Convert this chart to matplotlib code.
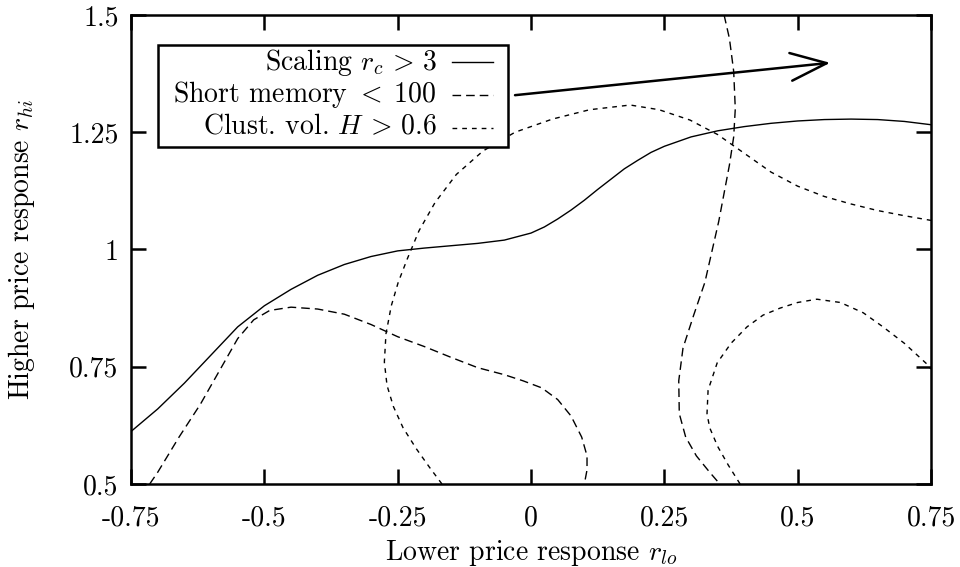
import matplotlib
matplotlib.use('Agg')
import matplotlib.pyplot as plt
from matplotlib.patches import Rectangle

plt.rcParams['font.family'] = 'serif'
plt.rcParams['font.serif'] = ['cmr10']
plt.rcParams['mathtext.fontset'] = 'cm'
plt.rcParams['axes.unicode_minus'] = False

# contour lines (r_lo, r_hi)
scaling_x = [-0.75, -0.70, -0.65, -0.60, -0.55, -0.50, -0.45, -0.40, -0.35, -0.30, -0.25,
             -0.20, -0.15, -0.10, -0.05, 0.0, 0.025, 0.05, 0.075, 0.10, 0.125, 0.15, 0.175,
             0.20, 0.225, 0.25, 0.30, 0.35, 0.40, 0.45, 0.50, 0.55, 0.60, 0.65, 0.70, 0.75]
scaling_y = [0.612, 0.66, 0.715, 0.775, 0.835, 0.88, 0.915, 0.945, 0.968, 0.985, 0.997,
             1.003, 1.008, 1.013, 1.02, 1.035, 1.048, 1.065, 1.084, 1.105, 1.128, 1.15, 1.172,
             1.19, 1.207, 1.22, 1.24, 1.253, 1.262, 1.269, 1.274, 1.277, 1.278, 1.277, 1.273,
             1.266]

memory_a_x = [-0.715, -0.70, -0.66, -0.62, -0.58, -0.55, -0.52, -0.49, -0.45, -0.40, -0.35,
              -0.30, -0.25, -0.20, -0.15, -0.10, -0.05, -0.015, 0.02, 0.05, 0.075, 0.095,
              0.105, 0.105, 0.10]
memory_a_y = [0.5, 0.525, 0.60, 0.67, 0.75, 0.81, 0.85, 0.87, 0.877, 0.873, 0.862,
              0.84, 0.814, 0.793, 0.77, 0.748, 0.733, 0.72, 0.705, 0.68, 0.645, 0.60,
              0.56, 0.53, 0.5]
memory_b_x = [0.362, 0.372, 0.38, 0.383, 0.38, 0.372, 0.362, 0.352, 0.34, 0.326, 0.305,
              0.285, 0.277, 0.278, 0.29, 0.31, 0.335, 0.354]
memory_b_y = [1.5, 1.45, 1.38, 1.30, 1.24, 1.18, 1.12, 1.06, 1.0, 0.93, 0.86,
              0.79, 0.72, 0.65, 0.60, 0.56, 0.525, 0.5]

clust_a_x = [-0.167, -0.19, -0.215, -0.24, -0.258, -0.27, -0.275, -0.272, -0.262, -0.249,
             -0.232, -0.21, -0.18, -0.14, -0.09, -0.03, 0.04, 0.11, 0.186, 0.24, 0.298,
             0.35, 0.40, 0.45, 0.50, 0.55, 0.60, 0.65, 0.70, 0.75]
clust_a_y = [0.5, 0.535, 0.575, 0.62, 0.665, 0.71, 0.76, 0.82, 0.88, 0.93,
             0.98, 1.04, 1.10, 1.16, 1.21, 1.25, 1.278, 1.298, 1.308, 1.298, 1.276,
             1.245, 1.205, 1.165, 1.135, 1.113, 1.097, 1.083, 1.072, 1.062]
clust_b_x = [0.392, 0.37, 0.35, 0.335, 0.33, 0.332, 0.349, 0.375, 0.405, 0.435, 0.467,
             0.50, 0.536, 0.58, 0.623, 0.66, 0.70, 0.744, 0.75]
clust_b_y = [0.5, 0.54, 0.58, 0.62, 0.65, 0.70, 0.758, 0.80, 0.835, 0.86, 0.875,
             0.887, 0.894, 0.887, 0.865, 0.835, 0.80, 0.754, 0.745]

x_ticks = [-0.75, -0.5, -0.25, 0, 0.25, 0.5, 0.75]
x_ticklabels = ['-0.75', '-0.5', '-0.25', '0', '0.25', '0.5', '0.75']
y_ticks = [0.5, 0.75, 1, 1.25, 1.5]
y_ticklabels = ['0.5', '0.75', '1', '1.25', '1.5']

labels = [r'Scaling $r_c\,>\,3$', r'Short memory $<\;100$', r'Clust. vol. $H\,>\,0.6$']
arrow_from = (-0.03, 1.329)
arrow_to = (0.561, 1.398)

fs = 20
long_dash = (6.2, 3.6)
short_dash = (3.4, 3.6)
lw = 1.0

fig = plt.figure(figsize=(9.6, 5.67), dpi=100)
ax = fig.add_axes([0.1365, 0.1464, 0.8333, 0.8272])

ax.plot(scaling_x, scaling_y, color='black', lw=lw)
ax.plot(memory_a_x, memory_a_y, color='black', lw=lw, dashes=long_dash)
ax.plot(memory_b_x, memory_b_y, color='black', lw=lw, dashes=long_dash)
ax.plot(clust_a_x, clust_a_y, color='black', lw=lw, dashes=short_dash)
ax.plot(clust_b_x, clust_b_y, color='black', lw=lw, dashes=short_dash)

ax.set_xlim(-0.75, 0.75)
ax.set_ylim(0.5, 1.5)
ax.set_xticks(x_ticks)
ax.set_xticklabels(x_ticklabels)
ax.set_yticks(y_ticks)
ax.set_yticklabels(y_ticklabels)
ax.tick_params(direction='in', length=10.8, width=1.8, top=True, right=True,
               labelsize=fs)
ax.tick_params(axis='x', pad=15)
ax.tick_params(axis='y', pad=9)
for s in ax.spines.values():
    s.set_linewidth(1.8)

ax.set_xlabel('Lower price response $r_{lo}$', fontsize=fs)
ax.set_ylabel('Higher price response $r_{hi}$', fontsize=fs)
ax.xaxis.set_label_coords(0.5, -0.115)
ax.yaxis.set_label_coords(-0.117, 0.5)

# legend box, drawn by hand so text is right aligned with samples on the right
ax.add_patch(Rectangle((0.034, 0.7186), 0.437, 0.2174, transform=ax.transAxes,
                       facecolor='white', edgecolor='black', lw=1.8, zorder=5))
styles = [None, long_dash, short_dash]
text_y = [0.8827, 0.8145, 0.7463]
line_y = [0.8998, 0.8294, 0.7591]
for lab, st, ty, ly in zip(labels, styles, text_y, line_y):
    ax.text(0.3825, ty, lab, transform=ax.transAxes, ha='right', va='baseline',
            fontsize=fs, zorder=6)
    if st is None:
        ax.plot([0.401, 0.4525], [ly, ly], transform=ax.transAxes, color='black',
                lw=lw, zorder=6)
    else:
        ax.plot([0.401, 0.4525], [ly, ly], transform=ax.transAxes, color='black',
                lw=lw, dashes=st, zorder=6)

ax.annotate('', xy=arrow_to, xytext=arrow_from,
            arrowprops=dict(arrowstyle='->,head_length=1.3,head_width=0.5', lw=1.8,
                            mutation_scale=20, shrinkA=0, shrinkB=0, color='black'))

fig.savefig('out.png', dpi=100)
